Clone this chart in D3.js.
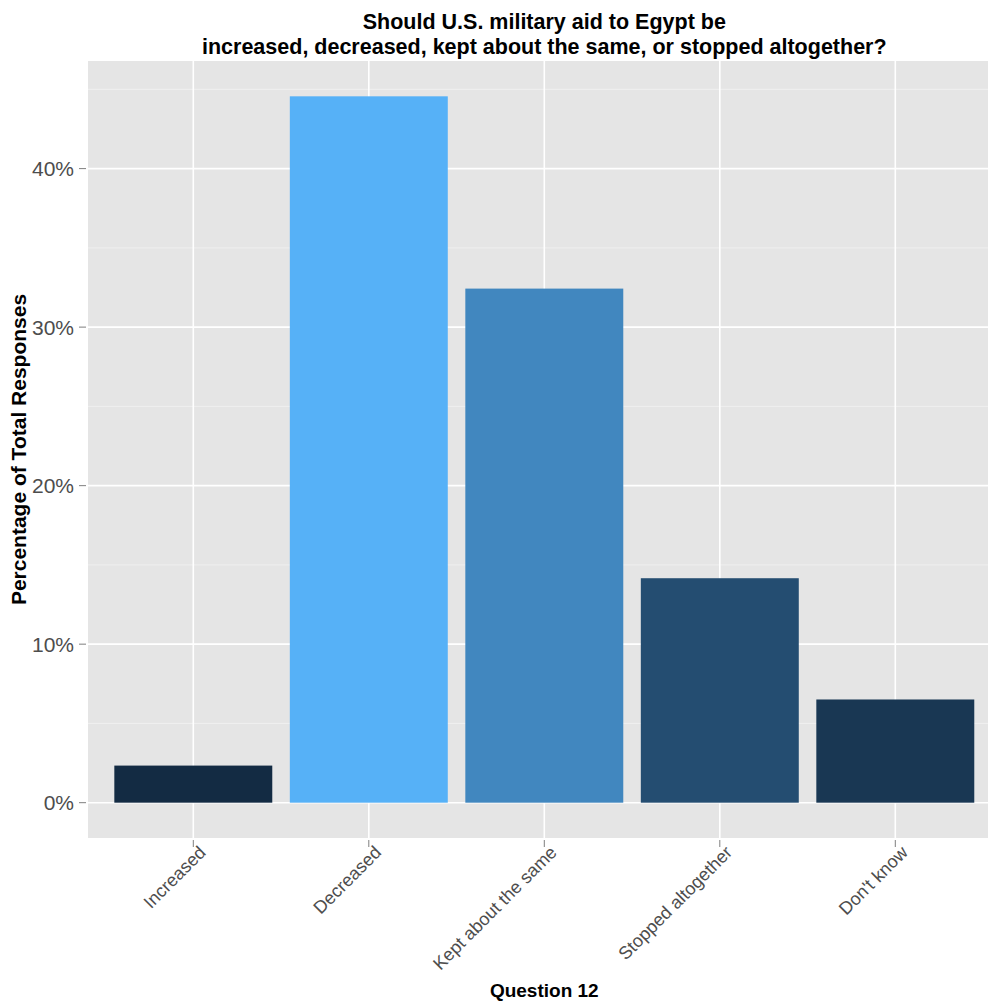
<!DOCTYPE html>
<html><head><meta charset="utf-8">
<script src="https://cdn.jsdelivr.net/npm/d3@7"></script>
<style>body{margin:0;background:#fff;overflow:hidden}svg{display:block}text{font-family:"Liberation Sans",Arial,Helvetica,sans-serif}</style>
</head><body><svg id="c" width="988" height="1003"></svg>
<script>
const categories = ["Increased","Decreased","Kept about the same","Stopped altogether","Don't know"];
const values = [2.34, 44.56, 32.43, 14.16, 6.51];
const yTicks = [0,10,20,30,40];
const yMinor = [5,15,25,35,45];
const titleLines = ["Should U.S. military aid to Egypt be","increased, decreased, kept about the same, or stopped altogether?"];
const xTitle = "Question 12";
const yTitle = "Percentage of Total Responses";

const svg = d3.select("#c");
const W = 988, H = 1003;
const m = {left:88, top:61};
const ph = 777;
const unit = 175.5;
const pw = unit * (categories.length - 1 + 1.2);  // panel extends past right edge (cropped)
const maxV = d3.max(values);
const cx = d3.scalePoint().domain(categories).range([0.6*unit, pw-0.6*unit]);
const y = d3.scaleLinear().domain([-maxV*0.05, maxV*1.05]).range([ph,0]);
const color = d3.scaleLinear().domain([d3.min(values), maxV]).range(["#132B43","#56B1F7"]).interpolate(d3.interpolateLab);

const g = svg.append("g").attr("transform",`translate(${m.left},${m.top})`);
g.append("rect").attr("width",pw).attr("height",ph).attr("fill","#e5e5e5");
g.selectAll(".minor").data(yMinor.filter(v=>y(v)>=0)).enter().append("line")
 .attr("x1",0).attr("x2",pw).attr("y1",d=>y(d)).attr("y2",d=>y(d)).attr("stroke","#f2f2f2").attr("stroke-width",0.8);
g.selectAll(".major").data(yTicks).enter().append("line")
 .attr("x1",0).attr("x2",pw).attr("y1",d=>y(d)).attr("y2",d=>y(d)).attr("stroke","#fff").attr("stroke-width",1.6);
g.selectAll(".vg").data(categories).enter().append("line")
 .attr("x1",d=>cx(d)).attr("x2",d=>cx(d)).attr("y1",0).attr("y2",ph).attr("stroke","#fff").attr("stroke-width",1.6);
g.selectAll(".bar").data(values).enter().append("rect")
 .attr("x",(d,i)=>cx(categories[i])-0.45*unit).attr("width",0.9*unit)
 .attr("y",d=>y(d)).attr("height",d=>y(0)-y(d)).attr("fill",d=>color(d));

// y axis
const ya = g.append("g");
ya.selectAll("line").data(yTicks).enter().append("line")
 .attr("x1",-9).attr("x2",-2).attr("y1",d=>y(d)).attr("y2",d=>y(d)).attr("stroke","#7f7f7f").attr("stroke-width",1);
ya.selectAll("text").data(yTicks).enter().append("text")
 .attr("x",-14).attr("y",d=>y(d)).attr("dy","0.36em").attr("text-anchor","end")
 .attr("font-size",21).attr("fill","#4d4d4d").text(d=>d+"%");
// x axis
const xa = g.append("g").attr("transform",`translate(0,${ph})`);
xa.selectAll("line").data(categories).enter().append("line")
 .attr("x1",d=>cx(d)).attr("x2",d=>cx(d)).attr("y1",2).attr("y2",9).attr("stroke","#7f7f7f");
xa.selectAll("text").data(categories).enter().append("text")
 .attr("transform",d=>`translate(${cx(d)+4},${6}) rotate(-45)`)
 .attr("text-anchor","end").attr("dy","0.75em").attr("font-size",18).attr("fill","#4d4d4d").text(d=>d);

svg.append("text").attr("x",m.left+pw/2).attr("y",997).attr("text-anchor","middle")
 .attr("font-size",19).attr("font-weight","bold").text(xTitle);
svg.append("text").attr("transform",`translate(26,${m.top+ph/2}) rotate(-90)`).attr("text-anchor","middle")
 .attr("font-size",21).attr("font-weight","bold").text(yTitle);
svg.selectAll(".title").data(titleLines).enter().append("text")
 .attr("x",m.left+pw/2).attr("y",(d,i)=>29+i*25).attr("text-anchor","middle")
 .attr("font-size",21.5).attr("font-weight","bold").text(d=>d);
</script></body></html>
